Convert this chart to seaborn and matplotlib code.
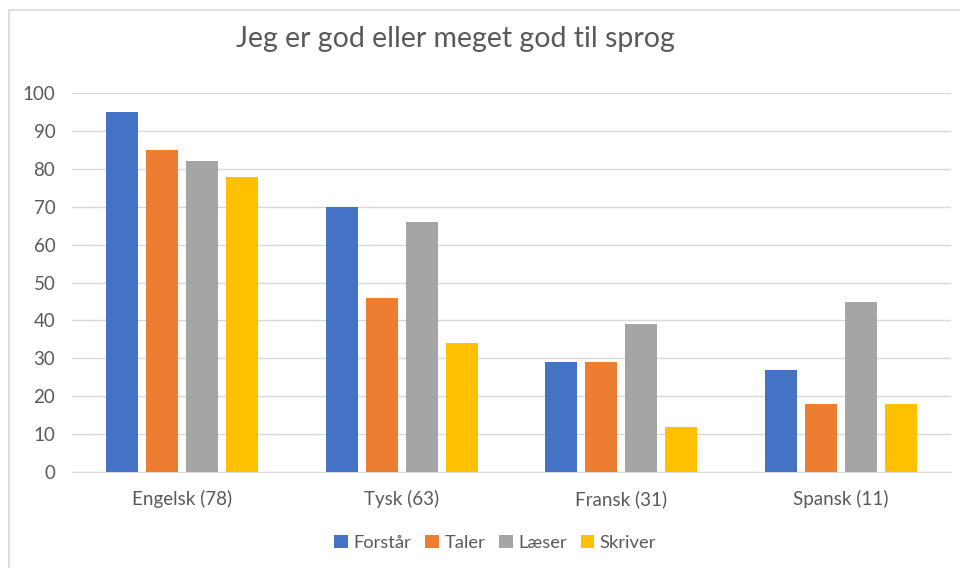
import pandas as pd
import matplotlib.pyplot as plt
import seaborn as sns
from matplotlib.patches import Rectangle

# data
languages = ['Engelsk (78)', 'Tysk (63)', 'Fransk (31)', 'Spansk (11)']
series = ['Forstår', 'Taler', 'Læser', 'Skriver']
forstaar = [95, 70, 29, 27]
taler = [85, 46, 29, 18]
laeser = [82, 66, 39, 45]
skriver = [78, 34, 12, 18]
colors = ['#4472C4', '#ED7D31', '#A5A5A5', '#FFC000']

rows = []
for name, vals in zip(series, [forstaar, taler, laeser, skriver]):
    for lang, v in zip(languages, vals):
        rows.append({'Sprog': lang, 'Serie': name, 'Pct': v})
df = pd.DataFrame(rows)

sns.set_style('white')
plt.rcParams['font.family'] = ['Lato', 'DejaVu Sans']

fig = plt.figure(figsize=(9.6, 5.68), dpi=100)
ax = fig.add_axes([0.075, 0.169, 0.9156, 0.667])

sns.barplot(data=df, x='Sprog', y='Pct', hue='Serie', order=languages,
            hue_order=series, palette=colors, width=0.728, gap=0.2,
            saturation=1, ax=ax, zorder=3, linewidth=0)

ax.set_ylim(0, 100)
ax.set_yticks(range(0, 101, 10))
ax.set_xlim(-0.5, 3.5)
ax.yaxis.grid(True, color='#D9D9D9', linewidth=1, zorder=0)
for s in ['top', 'right', 'left']:
    ax.spines[s].set_visible(False)
ax.spines['bottom'].set_color('#D9D9D9')
ax.tick_params(axis='both', length=0, colors='#595959', labelsize=13.5)
ax.tick_params(axis='x', pad=13)
ax.tick_params(axis='y', pad=12)
ax.set_xlabel('')
ax.set_ylabel('')

fig.text(0.474, 0.932, 'Jeg er god eller meget god til sprog', ha='center',
         va='center', fontsize=20.5, color='#595959')

leg = ax.legend(loc='center', bbox_to_anchor=(0.516, 0.044),
                bbox_transform=fig.transFigure, ncol=4, frameon=False,
                fontsize=13.2, labelcolor='#595959', handlelength=0.75,
                handleheight=0.75, handletextpad=0.3, columnspacing=0.75)

fig.patches.append(Rectangle((8.5 / 960, -0.1), 1.2, 1 - 10.5 / 568 + 0.1,
                             transform=fig.transFigure, fill=False,
                             edgecolor='#D9D9D9', linewidth=1.2))

fig.savefig('out.png', dpi=100)
